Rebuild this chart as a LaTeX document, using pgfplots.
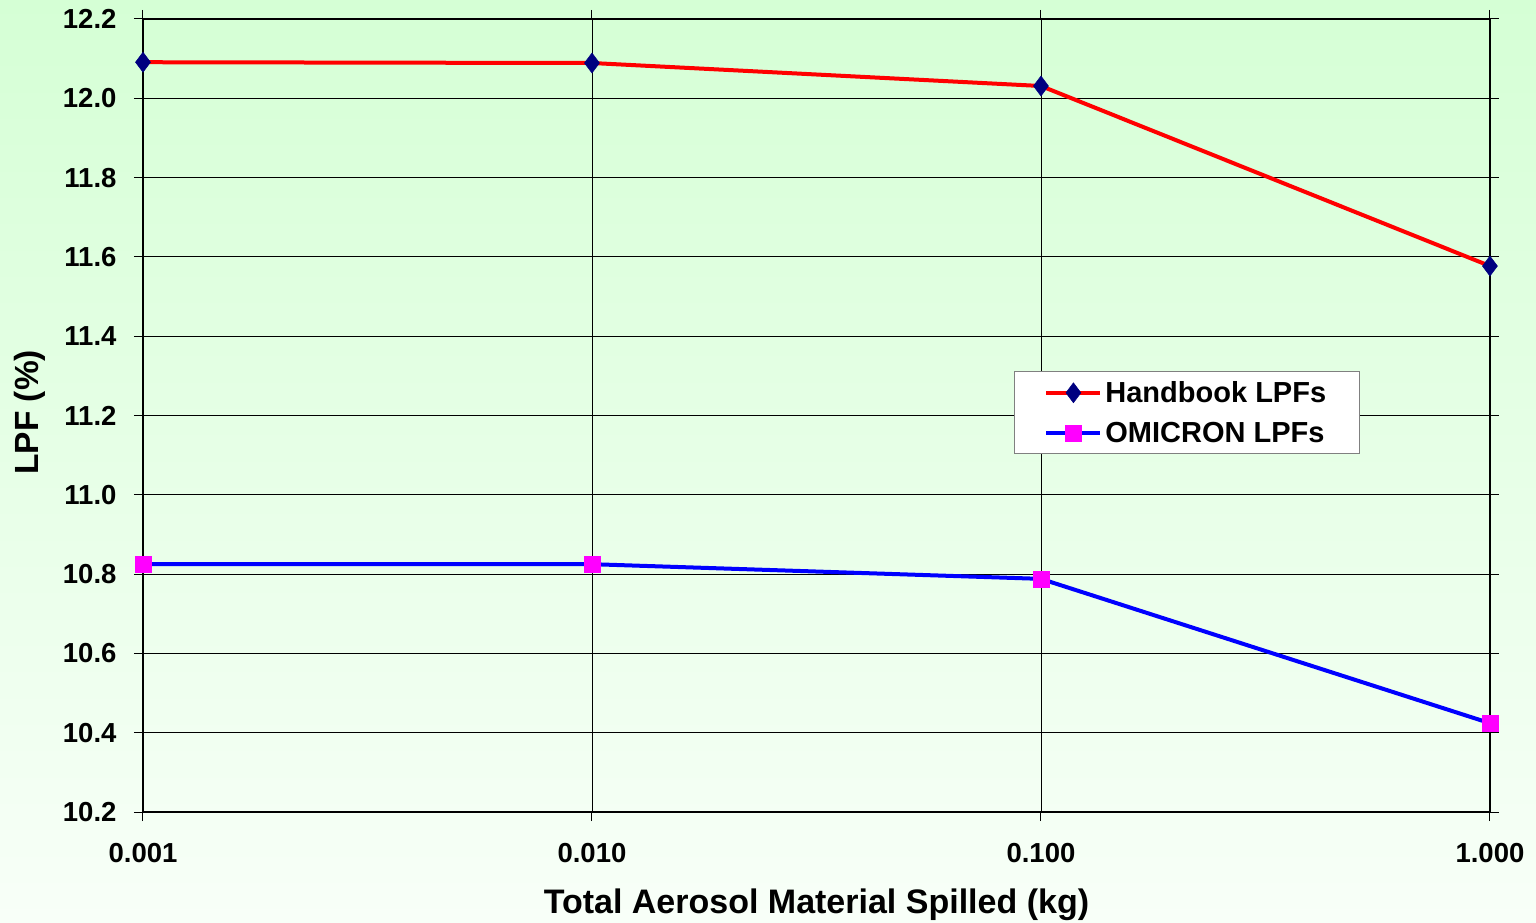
\documentclass[border=0pt]{standalone}
\usepackage{pgfplots}
\pgfplotsset{compat=1.18}
\usepackage{fontspec}
\setmainfont{Liberation Sans}
\definecolor{bgtop}{RGB}{213,255,213}
\definecolor{bgbot}{RGB}{248,255,248}
\definecolor{navym}{RGB}{0,0,128}
\definecolor{magm}{RGB}{255,0,255}
\definecolor{redm}{RGB}{255,0,0}
\definecolor{bluem}{RGB}{0,0,255}
\begin{document}
\begin{tikzpicture}[x=1pt,y=1pt]
\useasboundingbox (0,0) rectangle (1536,922);
\shade[top color=bgtop, bottom color=bgbot] (0,0) rectangle (1536,922);
\begin{axis}[
  at={(143pt,110pt)}, anchor=south west,
  scale only axis, width=1347pt, height=793pt,
  xmode=log, xmin=0.001, xmax=1, ymin=10.2, ymax=12.2,
  xtick={0.001,0.01,0.1,1},
  xticklabels={0.001,0.010,0.100,1.000},
  ytick={10.2,10.4,10.6,10.8,11.0,11.2,11.4,11.6,11.8,12.0,12.2},
  yticklabels={10.2,10.4,10.6,10.8,11.0,11.2,11.4,11.6,11.8,12.0,12.2},
  minor tick num=0, xminorticks=false,
  tick align=outside, major tick length=9pt,
  tick style={black, line width=1pt},
  grid=major, major grid style={black, line width=0.9pt},
  axis line style={black, line width=1.2pt},
  axis background/.style={fill=none},
  ticklabel style={font=\fontsize{27.5}{33}\selectfont\bfseries},
  xticklabel style={yshift=-19pt},
  yticklabel style={xshift=-14pt},
  xlabel={Total Aerosol Material Spilled (kg)},
  ylabel={LPF (\%)},
  label style={font=\fontsize{33.5}{40}\selectfont\bfseries},
  xlabel style={at={(axis description cs:0.5,-0.117)}, anchor=center, font=\fontsize{34}{40}\selectfont\bfseries},
  ylabel style={at={(axis description cs:-0.084,0.504)}, anchor=center, rotate=0},
  legend style={at={(axis description cs:0.6466,0.5561)}, anchor=north west,
    draw=gray, line width=1pt, fill=white, font=\fontsize{29}{34}\selectfont\bfseries,
    inner xsep=30pt, inner ysep=8pt, row sep=14pt,
    nodes={inner xsep=3pt}},
  legend cell align=left,
  legend image code/.code={
    \draw[#1] (0pt,0pt) -- (27pt,0pt) -- (54pt,0pt);
    \draw[#1, only marks] plot coordinates {(27pt,0pt)};
  },
  clip=false,
]
\addplot[redm, line width=4pt, mark=diamond*, mark size=10pt,
  mark options={navym, fill=navym, line width=0.5pt}]
  coordinates {(0.001,12.091) (0.01,12.089) (0.1,12.031) (1,11.577)};
\addlegendentry{Handbook LPFs}
\addplot[bluem, line width=4pt, mark=square*, mark size=8pt,
  mark options={magm, fill=magm, line width=0.5pt}]
  coordinates {(0.001,10.825) (0.01,10.825) (0.1,10.788) (1,10.424)};
\addlegendentry{OMICRON LPFs}
\end{axis}
\end{tikzpicture}
\end{document}
